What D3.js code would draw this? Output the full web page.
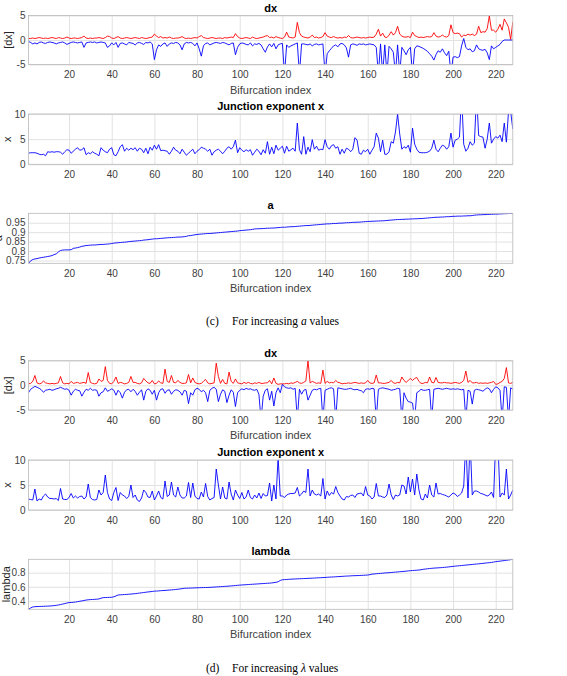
<!DOCTYPE html>
<html><head><meta charset="utf-8">
<script src="https://cdn.jsdelivr.net/npm/d3@7/dist/d3.min.js"></script>
<style>
body{margin:0;background:#fff;}
svg{display:block;font-family:"Liberation Sans",Arial,Helvetica,sans-serif;}
</style>
</head><body>
<svg id="chart" width="567" height="676"></svg>
<script>
// Bifurcation index 1..228
const bifIndex = d3.range(1, 229);
const xTicks = [20,40,60,80,100,120,140,160,180,200,220];

// ---- (c) sorted by increasing a ----
const dxA_red = [
.3,.3,.4,.3,.4,.5,.4,.3,.4,.3, .4,.5,.4,.3,.5,.4,.3,.4,.6,.4,
.3,.4,.4,.3,.4,.5,.8,.4,.3,.4, .3,.4,.4,.5,.4,.3,.5,.8,.7,.4,
.3,.5,.7,.4,.3,.4,.5,.4,.3,.4, .5,.4,.3,.5,.4,.3,.4,.5,.6,1.2,
.8,.5,.7,.4,.5,.4,.6,.4,.3,.4, .4,.5,.7,.4,.3,.4,.3,.4,.5,.4,
.7,.9,.5,.4,.3,.4,.5,.4,.3,.4, .4,.3,.5,.4,.5,.6,.5,1.3,.7,.4,
.3,.4,.5,.4,.3,.6,.4,.3,.4,.5, .6,.8,.9,.5,.6,.4,.7,.5,.4,.3,
.6,1.6,.6,.5,.4,.6,3.6,1.5,.8,.6, .5,.4,.6,1.0,.5,.6,.4,.5,.7,1.5,
.8,.6,.5,.7,.5,.4,.5,.4,.6,.5, .9,.5,.4,.5,.6,.5,.4,.5,.4,.5,
.6,.5,.6,1.2,2.2,.8,1.4,.6,.5,1.0, 1.7,1.0,1.5,2.8,1.2,.8,.6,.6,.7,.5,
1.6,.9,.7,.5,.6,.5,.6,.7,.6,.7, 1.5,.8,.6,.7,1.0,.7,.6,.9,3.1,1.5,
1.3,1.4,1.3,.6,1.0,.9,1.2,1.0,1.2,.9, 1.2,2.8,1.5,1.7,1.6,2.3,4.9,2.0,2.0,1.6,
2.2,3.2,2.0,4.3,3.5,2.6,.1,3.7];
const dxA_blue = [
-.3,-.5,-.8,-.6,-.8,-.5,-.4,-.6,-.7,-.5, -.4,-.5,-.6,-.8,-.6,-.5,-.4,-.6,-.9,-.7,
-.5,-.4,-.5,-.6,-.5,-.4,-1.5,-.6,-.5,-.4, -.5,-.4,-.6,-.5,-.4,-.5,-.6,-1.5,-1.2,-.6,
-1.0,-.5,-1.5,-.7,-.6,-.8,-1.0,-.5,-.6,-.7, -1.0,-.6,-.5,-.7,-.9,-.5,-.6,-.4,-.8,-4.0,
-2.0,-1.0,-1.3,-.8,-.6,-1.3,-.8,-.6,-.7,-.5, -.6,-1.0,-2.0,-.8,-.5,-.6,-.5,-.7,-1.2,-.6,
-1.8,-3.3,-1.2,-.7,-.6,-1.0,-.8,-.6,-.5,-.6, -.7,-.5,-.6,-.8,-1.0,-.7,-.6,-3.0,-1.5,-.8,
-.6,-.7,-.9,-1.0,-.6,-1.2,-.8,-.9,-.7,-1.0, -1.8,-2.5,-1.4,-.8,-1.4,-.7,-1.8,-1.0,-.8,-.7,
-7,-1.0,-1.5,-1.2,-1.0,-.8,-.6,-7,-.8,-.8, -.9,-1.0,-.8,-1.2,-.9,-.8,-1.0,-.9,-.8,-7,
-2.8,-2.2,-1.7,-1.2,-1.0,-1.4,-.8,-.7,-1.0,-1.6, -3.5,-1.0,-.8,-.9,-1.1,-.8,-.9,-.8,-1.0,-.9,
-.8,-.9,-1.0,-1.5,-7,-.8,-7,-1.0,-7,-1.3, -1.8,-2.5,-7,-1.0,-7,-1.5,-2.2,-3.0,-2.0,-1.5,
-7,-1.8,-1.2,-1.3,-1.5,-1.7,-2.0,-2.3,-2.8,-3.3, -4.1,-3.0,-2.2,-2.5,-1.8,-2.6,-3.2,-2.3,-7,-3.5,
-3.4,-3.6,-3.4,-1.2,.3,-1.5,-2.0,-1.8,-2.4,-2.2, -1.0,-1.8,-2.0,-2.1,-1.9,-2.6,-4.0,-1.2,-1.8,-1.5,
-1.2,-.9,-.3,0,0,0,0,0];
const xA = [
2.2,2.3,2.3,2.3,2.2,2.0,1.9,2.0,1.7,
2.5,2.4,2.5,2.4,2.5,2.5,2.4,2.0,2.5,2.9,
2.8,2.2,2.6,3.0,3.3,2.8,2.9,3.3,1.9,2.3,
2.1,2.5,2.2,2.0,1.7,3.3,2.8,2.5,2.3,3.0,
3.3,1.9,1.7,2.5,3.5,3.9,2.6,3.2,2.8,3.2,
2.9,3.3,2.6,3.2,3.0,2.3,3.2,2.1,3.4,2.8,
3.8,3.0,3.9,2.7,2.8,2.7,2.6,2.0,2.6,3.4,
2.8,2.6,2.1,3.0,2.4,1.8,2.2,2.6,3.0,2.1,
2.6,2.9,3.4,3.2,3.0,2.6,3.0,1.8,2.5,2.8,
3.0,2.6,2.1,2.6,3.2,3.5,3.0,3.5,4.8,2.3,
3.3,2.8,2.5,2.9,2.6,2.9,1.8,2.4,3.0,2.6,
1.9,2.9,2.2,4.5,2.0,3.4,2.1,3.8,2.8,3.2,
3.6,2.2,3.6,2.6,2.9,3.2,2.6,8.2,2.9,2.0,
5.5,2.0,3.4,2.5,4.9,3.0,3.6,2.8,3.0,2.9,
4.9,3.5,3.0,3.7,3.9,3.2,3.5,2.0,3.0,2.2,
3.2,3.0,2.5,3.0,5.3,4.8,2.2,2.0,2.8,2.5,
3.0,2.0,2.8,3.5,6.2,5.2,2.5,4.8,2.0,2.0,
2.5,4.5,4.2,6.4,10.0,6.0,3.0,3.5,3.2,3.8,
2.4,7.2,4.0,3.0,2.4,2.3,2.3,2.3,2.4,2.6,
3.2,4.8,3.0,2.5,3.2,3.8,3.6,3.0,3.5,6.2,
3.4,4.8,5.0,5.4,14,4.0,2.6,3.2,4.5,3.8,
4.2,14,5.7,5.5,5.4,3.2,5.0,8.2,4.2,5.0,
5.5,5.2,5.8,4.5,8.2,4.4,10.5,10.5,7.0];
const aVals = [
.735,.748,.755,.758,.760,.763,.765,.767,.769,.771,
.773,.776,.781,.785,.795,.803,.805,.806,.806,.806,
.807,.814,.816,.818,.821,.825,.827,.829,.830,.831,
.832,.832,.833,.834,.835,.835,.836,.837,.838,.840,
.842,.843,.844,.845,.846,.847,.848,.850,.851,.852,
.853,.854,.855,.856,.858,.859,.860,.862,.863,.865,
.865,.866,.867,.868,.869,.870,.871,.871,.872,.873,
.874,.874,.875,.876,.878,.881,.882,.884,.886,.888,
.889,.890,.891,.892,.893,.893,.894,.895,.896,.897,
.898,.899,.900,.901,.902,.903,.904,.905,.906,.908,
.909,.910,.911,.912,.913,.915,.917,.918,.918,.919,
.919,.920,.921,.921,.922,.922,.923,.924,.925,.926,
.926,.927,.928,.929,.929,.930,.931,.932,.933,.934,
.935,.935,.936,.937,.938,.939,.940,.941,.942,.943,
.944,.944,.945,.946,.946,.947,.948,.948,.949,.950,
.950,.951,.952,.952,.953,.953,.954,.955,.956,.957,
.957,.958,.958,.959,.959,.960,.960,.961,.962,.963,
.964,.965,.966,.967,.967,.968,.968,.969,.969,.970,
.970,.971,.971,.972,.972,.973,.974,.975,.976,.977,
.978,.979,.979,.980,.980,.981,.982,.982,.983,.984,
.984,.985,.985,.985,.986,.986,.987,.987,.988,.990,
.991,.992,.992,.993,.993,.994,.994,.995,.995,.996,
.996,.997,.997,.998,.998,.999,.999,1.000];

// ---- (d) sorted by increasing lambda ----
const dxL_red = [
.3,.4,.8,2.0,.5,.3,.4,.9,.5,.4, .3,.4,.3,.4,.5,1.8,.5,.3,.4,.3,
.8,.4,.5,.6,.4,.5,.6,.4,2.6,.6, .4,.3,.4,1.3,.8,1.0,3.8,1.0,.4,.3,
.8,1.7,.4,.6,.5,.3,.4,.6,1.8,.6, .6,.4,.3,.5,1.4,.9,.5,.4,1.0,.3,
.4,.9,.5,.4,3.3,.8,.6,2.0,.6,.5, 1.0,.6,.4,.4,.5,2.2,.5,1.5,.6,.4,
.3,.4,.8,1.2,.5,.3,.4,.5,4.5,1.8, .4,1.2,.4,.3,2.7,.8,.4,1.3,.5,.4,
.3,.6,.4,.6,.4,.3,.5,.4,.6,.4, .4,.5,.5,1.0,.3,1.5,.4,.2,.3,.3,
.3,.4,.3,.5,.4,.6,.8,.5,.4,.6, .9,5.0,.5,.8,.6,.4,.5,.4,3.1,.4,
.8,.5,.6,.5,1.0,.6,.5,.3,.4,.4, .5,.4,.5,.6,.5,.4,.5,.4,.5,1.0,
.5,.4,.5,2.1,.5,.5,.4,.4,.5,.6, 1.0,.5,.4,.6,.5,1.7,1.0,.6,1.0,1.4,
1.0,1.4,1.6,.8,.4,.4,.6,.5,1.7,.6, .5,1.6,.6,.5,.5,.6,.5,.5,.4,.5,
.6,.5,.4,.6,1.0,2.9,.6,1.0,.5,.5, .6,.4,.5,.4,.5,.4,.5,.6,.8,.2,
.3,.6,.8,1.4,3.6,.5,.4,.6];
const dxL_blue = [
-1.5,-.8,-.5,-.2,-.4,-.6,-.9,-1.4,-1.0,-.9, -.8,-1.0,-.9,-.7,-.6,-.4,-.6,-.8,-.7,-1.0,
-2.0,-1.2,-.8,-1.0,-1.1,-2.2,-1.4,-.8,-1.0,-.6, -1.0,-.9,-1.0,-2.2,-1.5,-1.3,-.5,-1.2,-1.0,-.7,
-1.0,-2.0,-1.0,-1.5,-2.6,-1.4,-.9,-.8,-1.3,-.8, -1.2,-2.0,-1.4,-.9,-3.0,-1.2,-.7,-1.0,-1.8,-1.0,
-3.0,-1.5,-.8,-.7,-1.6,-1.0,-.9,-1.8,-1.2,-.9, -1.0,-1.3,-2.0,-1.0,-1.2,-3.7,-1.5,-2.0,-.9,-.6,
-.8,-1.3,-1.0,-1.5,-3.3,-1.0,-.6,-.4,-.8,-3.3, -1.8,-.9,-1.2,-3.5,-2.0,-.9,-1.4,-4.3,-1.5,-1.0,
-.7,-.9,-.6,-.8,-.7,-.9,-1.0,-.8,-1.8,-7, -2.2,-1.0,-.7,-3.0,-1.2,-4.2,-1.5,-.5,-1.5,.2,
-.3,-.5,-.6,-.5,-.8,-.6,-7,-.8,-1.8,-1.0, -.8,-3.0,-2.0,-1.0,-.8,-.9,-.7,-.6,-7,-1.0,
-.8,-.6,-.5,-.7,-7,-.5,-.6,-.7,-.8,-.8, -.7,-.6,-.8,-.9,-.8,-1.0,-1.1,-1.5,-.8,-.7,
-.8,-.6,-.7,-7,-.8,-.6,-.5,-.6,-.7,-.8, -1.0,-.9,-.8,-.6,-.7,-7,-1.5,-2.6,-3.3,-3.4,
-3.6,-7,-1.5,-1.2,-.8,-1.0,-1.0,-.9,-.8,-7, -.8,-.7,-.6,-.7,-.8,-.7,-.6,-.7,-.8,-.7,
-.8,-.7,-.8,-.9,-.8,-7,-1.0,-1.2,-3.8,-1.0, -.8,-.9,-1.0,-1.2,-.8,-.5,-.7,-1.5,-.8,-.3,
-.5,-1.0,-7,-.3,-.4,-7,-.5,-.8];
const xL = [
2.2,2.1,2.0,4.2,1.8,2.2,2.0,2.8,3.2,
2.6,2.3,2.3,2.2,2.3,1.9,4.3,2.2,2.1,2.1,
2.5,3.3,2.4,2.8,2.4,2.7,2.8,2.2,2.6,5.2,
2.5,2.1,2.0,2.1,4.0,3.0,3.5,7.0,3.5,2.2,
1.9,3.5,4.5,1.9,3.5,3.0,2.8,2.3,2.7,5.0,
2.5,3.0,2.0,1.7,2.4,4.0,3.5,2.6,2.5,3.8,
2.0,2.8,3.8,2.5,2.2,5.8,2.7,3.0,5.6,3.0,
2.6,4.6,3.0,2.4,2.4,2.8,5.5,2.5,5.4,2.8,
2.3,2.2,3.6,2.6,5.3,2.7,2.0,2.3,2.5,8.2,
5.0,2.2,4.6,2.4,2.2,5.6,3.2,2.0,4.0,3.0,
2.3,3.5,2.2,2.6,4.0,2.5,2.2,3.0,2.4,3.4,
2.3,3.3,2.8,2.9,5.4,1.8,5.0,2.2,10.5,2.8,
2.8,2.5,3.0,3.2,3.3,3.3,3.4,4.5,2.8,3.2,
3.8,3.5,8.2,2.8,4.0,3.2,3.0,3.2,2.8,6.3,
2.2,3.8,2.9,3.5,3.2,4.7,3.5,2.8,2.2,2.0,
2.7,2.6,2.9,3.0,2.5,3.2,3.3,3.4,2.8,4.7,
3.0,2.8,2.2,2.6,5.3,2.8,2.8,2.6,2.5,3.0,
5.2,3.0,2.1,3.0,2.8,3.0,5.0,4.8,3.2,6.6,
3.6,6.2,3.0,7.2,4.0,2.2,2.0,3.2,2.4,5.0,
3.0,2.6,5.4,3.2,3.3,3.1,3.0,2.8,2.6,3.0,
3.4,3.2,2.7,3.0,3.4,4.8,14,2.4,14,3.0,
3.8,3.8,3.6,3.3,3.2,3.0,2.8,3.0,3.6,2.5,
14,14,2.6,3.4,3.0,8.2,2.2,3.0,4.0];
const lambdaVals = [
.281,.300,.314,.318,.320,.321,.322,.323,.325,.326,
.328,.330,.333,.337,.342,.348,.355,.362,.370,.376,
.378,.380,.384,.389,.395,.400,.406,.412,.416,.419,
.420,.422,.424,.428,.438,.446,.448,.449,.450,.452,
.458,.470,.484,.486,.488,.490,.492,.495,.497,.500,
.503,.507,.511,.515,.519,.523,.527,.530,.534,.538,
.540,.542,.545,.547,.549,.551,.554,.556,.559,.562,
.565,.569,.574,.579,.580,.581,.582,.583,.585,.586,
.587,.588,.589,.590,.591,.592,.594,.596,.598,.600,
.602,.604,.606,.608,.610,.613,.615,.618,.621,.624,
.626,.628,.630,.632,.634,.636,.638,.640,.642,.644,
.646,.648,.650,.652,.655,.659,.664,.671,.690,.700,
.702,.704,.706,.708,.710,.711,.713,.714,.715,.717,
.718,.720,.721,.723,.724,.726,.728,.729,.731,.733,
.735,.737,.739,.740,.742,.744,.746,.748,.750,.752,
.753,.755,.757,.758,.759,.760,.762,.763,.765,.767,
.772,.780,.782,.785,.788,.790,.793,.796,.798,.800,
.803,.806,.808,.811,.814,.816,.819,.822,.825,.829,
.831,.833,.835,.838,.842,.848,.852,.856,.859,.862,
.865,.867,.869,.871,.873,.876,.879,.882,.886,.890,
.893,.896,.899,.902,.905,.908,.911,.914,.917,.920,
.923,.926,.929,.932,.936,.939,.942,.946,.951,.957,
.960,.964,.968,.972,.976,.980,.985,.990];

const dxTicks = [-5,0,5];
const xExpTicks = [0,5,10];
const aTicks = [0.75,0.8,0.85,0.9,0.95];
const lambdaTicks = [0.4,0.6,0.8];

const RED = "#ff0000", BLUE = "#0000ff";
const panels = [
  {title:"dx", ylab:"[dx]", ylabX:11.5, top:15.5, bottom:64.5, dom:[-5,5], yt:dxTicks, series:[[dxA_red,RED],[dxA_blue,BLUE]], xlab:true},
  {title:"Junction exponent x", ylab:"x", ylabX:11, top:114, bottom:164.3, dom:[0,10], yt:xExpTicks, series:[[xA,BLUE]], xlab:false},
  {title:"a", ylab:"a", ylabX:2, top:213.3, bottom:263.3, dom:d3.extent(aVals), yt:aTicks, series:[[aVals,BLUE]], xlab:true},
  {title:"dx", ylab:"[dx]", ylabX:11.5, top:360.7, bottom:410, dom:[-5,5], yt:dxTicks, series:[[dxL_red,RED],[dxL_blue,BLUE]], xlab:true},
  {title:"Junction exponent x", ylab:"x", ylabX:11, top:460, bottom:510, dom:[0,10], yt:xExpTicks, series:[[xL,BLUE]], xlab:false},
  {title:"lambda", ylab:"lambda", ylabX:10, top:559.3, bottom:609.3, dom:d3.extent(lambdaVals), yt:lambdaTicks, series:[[lambdaVals,BLUE]], xlab:true}
];

const svg = d3.select("#chart");
const L = 28.5, R = 512.8;
const x = d3.scaleLinear().domain([1,228]).range([L,R]);

panels.forEach((p,pi)=>{
  const h = p.bottom - p.top;
  const y = d3.scaleLinear().domain(p.dom).range([p.bottom,p.top]);
  const g = svg.append("g");
  const gx = g.append("g").attr("transform",`translate(0,${p.bottom})`)
    .call(d3.axisBottom(x).tickValues(xTicks).tickSize(-h).tickPadding(6.5));
  const gy = g.append("g").attr("transform",`translate(${L},0)`)
    .call(d3.axisLeft(y).tickValues(p.yt).tickSize(-(R-L)).tickPadding(3).tickFormat(d=>d));
  [gx,gy].forEach(a=>{
    a.select(".domain").remove();
    a.selectAll(".tick line").attr("stroke","#e2e2e2").attr("stroke-width",1);
    a.selectAll(".tick text").attr("fill","#404040").style("font-size","10px")
      .style("font-family","'Liberation Sans',Arial,sans-serif");
  });
  const cid = "clip"+pi;
  svg.append("clipPath").attr("id",cid).append("rect")
    .attr("x",L).attr("y",p.top).attr("width",R-L).attr("height",h);
  const line = d3.line().x((d,i)=>x(bifIndex[i])).y(d=>y(d));
  p.series.forEach(([vals,col])=>{
    g.append("path").datum(vals).attr("clip-path",`url(#${cid})`)
      .attr("fill","none").attr("stroke",col).attr("stroke-width",0.9)
      .attr("stroke-linejoin","round").attr("d",line);
  });
  g.append("rect").attr("x",L).attr("y",p.top).attr("width",R-L).attr("height",h)
    .attr("fill","none").attr("stroke","#b8b8b8").attr("stroke-width",0.8);
  g.append("text").attr("x",(L+R)/2).attr("y",p.top-4).attr("text-anchor","middle")
    .style("font-size","11px").style("font-weight","bold").attr("fill","#000").text(p.title);
  g.append("text").attr("transform",`translate(${p.ylabX},${(p.top+p.bottom)/2}) rotate(-90)`)
    .attr("text-anchor","middle").style("font-size","11px").attr("fill","#262626").text(p.ylab);
  if(p.xlab){
    g.append("text").attr("x",(L+R)/2).attr("y",p.bottom+29).attr("text-anchor","middle")
      .style("font-size","11px").attr("fill","#404040").text("Bifurcation index");
  }
});

function caption(yPos, label, sym){
  const t = svg.append("text").attr("y",yPos)
    .style("font-family","'Liberation Serif','DejaVu Serif',serif").style("font-size","11.5px").attr("fill","#000");
  t.append("tspan").attr("x",206).text(label);
  t.append("tspan").attr("x",232).text("For increasing ");
  t.append("tspan").style("font-style","italic").text(sym);
  t.append("tspan").text(" values");
}
caption(325, "(c)", "a");
caption(671.5, "(d)", "λ");
</script>
</body></html>
